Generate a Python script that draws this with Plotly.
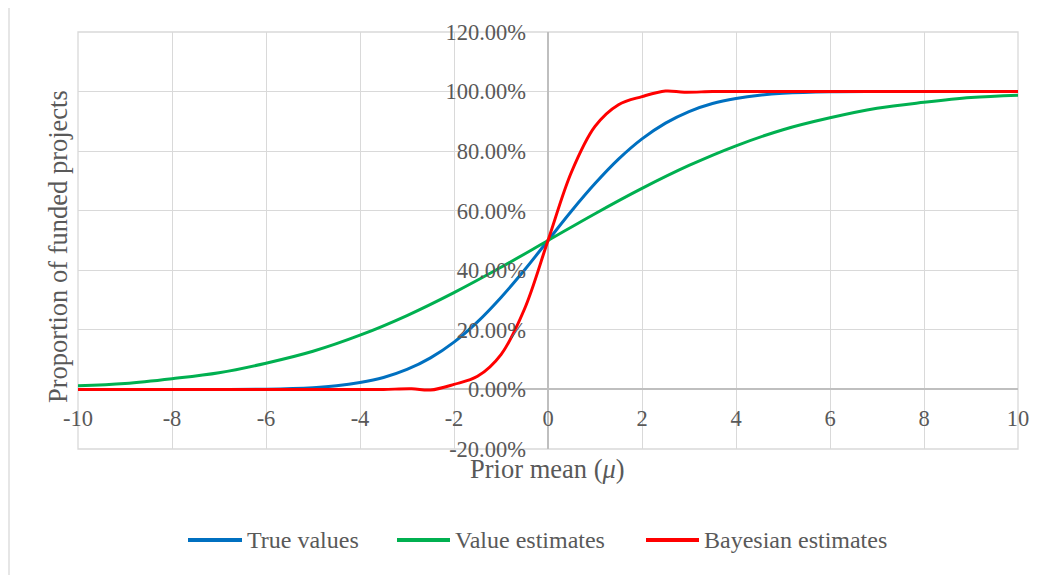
import plotly.graph_objects as go

# Data (proportion of funded projects, in %)
x_true = [-10, -9, -8, -7, -6, -5, -4.5, -4, -3.5, -3, -2.5, -2, -1.5, -1, -0.5, 0,
          0.5, 1, 1.5, 2, 2.5, 3, 3.5, 4, 4.5, 5, 6, 7, 8, 9, 10]
y_true = [0, 0, 0, 0, 0.1, 0.6, 1.2, 2.3, 4.0, 6.7, 10.6, 15.9, 22.7, 30.9, 40.1, 50,
          59.9, 69.1, 77.3, 84.1, 89.4, 93.3, 96.0, 97.7, 98.8, 99.4, 99.9, 100, 100, 100, 100]

x_value = [-10, -9, -8, -7, -6, -5, -4, -3, -2, -1, 0, 1, 2, 3, 4, 5, 6, 7, 8, 9, 10]
y_value = [1.2, 2.0, 3.6, 5.6, 8.8, 12.8, 18.2, 24.8, 32.5, 41.0, 50, 59.0, 67.5, 75.2,
           81.8, 87.2, 91.2, 94.4, 96.4, 98.0, 98.8]

x_bayes = [-10, -8, -6, -4, -3.5, -2.9, -2.5, -2, -1.5, -1, -0.5, 0, 0.5, 1, 1.5, 2,
           2.5, 2.9, 3.5, 4, 6, 8, 10]
y_bayes = [0, 0, 0, 0, 0, 0.2, -0.2, 1.7, 4.4, 11.7, 27.0, 50, 73.0, 88.3, 95.6, 98.3,
           100.2, 99.8, 100, 100, 100, 100, 100]

x_ticks = [-10, -8, -6, -4, -2, 0, 2, 4, 6, 8, 10]
x_ticklabels = ["-10", "-8", "-6", "-4", "-2", "0", "2", "4", "6", "8", "10"]
y_ticks = [-20, 0, 20, 40, 60, 80, 100, 120]
y_ticklabels = ["-20.00%", "0.00%", "20.00%", "40.00%", "60.00%", "80.00%", "100.00%", "120.00%"]

series_names = ["True values", "Value estimates", "Bayesian estimates"]
series_colors = ["#0070C0", "#00B050", "#FF0000"]
series_x = [x_true, x_value, x_bayes]
series_y = [y_true, y_value, y_bayes]

FONT = "Liberation Serif, Times New Roman, serif"
GRAY = "#595959"

# plot-area pixel geometry (window coordinates) used to place the custom legend
PX0, PX1, PY0, PY1 = 78, 1018, 32, 449


def px_x(p):
    return (p - PX0) / (PX1 - PX0)


def px_y(p):
    return (PY1 - p) / (PY1 - PY0)


fig = go.Figure()
for name, xs, ys, color in zip(series_names, series_x, series_y, series_colors):
    fig.add_trace(go.Scatter(
        x=xs, y=ys, mode="lines", name=name, showlegend=False,
        line=dict(color=color, width=3, shape="spline", smoothing=1.0),
    ))

# custom legend (line sample + label)
legend_line_x = [(188, 242), (397, 450), (646, 699)]
shapes = [
    dict(type="rect", xref="paper", yref="paper", x0=0, x1=1, y0=0, y1=1,
         line=dict(color="#d9d9d9", width=1.3), layer="below"),
    dict(type="rect", xref="paper", yref="paper", x0=px_x(9), x1=px_x(1055), y0=px_y(600), y1=px_y(4),
         line=dict(color="#d9d9d9", width=1.3), layer="below"),
]
annotations = [
    dict(text="Prior mean (<i>μ</i>)", xref="paper", yref="paper", x=px_x(547), y=px_y(469),
         xanchor="center", yanchor="middle", showarrow=False, font=dict(size=26.5, color=GRAY)),
    dict(text="Proportion of funded projects", xref="paper", yref="paper",
         x=px_x(58), y=px_y(247), xanchor="center", yanchor="middle",
         textangle=-90, showarrow=False, font=dict(size=26.5, color=GRAY)),
]
for (a, b), name, color in zip(legend_line_x, series_names, series_colors):
    shapes.append(dict(type="line", xref="paper", yref="paper", x0=px_x(a), x1=px_x(b),
                       y0=px_y(540), y1=px_y(540), line=dict(color=color, width=4)))
    annotations.append(dict(text=name, xref="paper", yref="paper", x=px_x(b + 3), y=px_y(540),
                            xanchor="left", yanchor="middle", showarrow=False,
                            font=dict(size=24, color=GRAY)))

fig.update_layout(
    width=1052, height=567,
    margin=dict(l=70, r=42, t=24, b=126),
    paper_bgcolor="white", plot_bgcolor="white",
    font=dict(family=FONT, size=22, color=GRAY),
    showlegend=False,
    xaxis=dict(
        range=[-10, 10], tickvals=x_ticks, ticktext=x_ticklabels,
        showgrid=True, gridcolor="#d9d9d9", gridwidth=1.3,
        zeroline=True, zerolinecolor="#bfbfbf", zerolinewidth=1.6,
        showline=False, anchor="free", position=20 / 140, ticks="",
        ticklabelstandoff=13, tickfont=dict(size=22.5, color=GRAY),
    ),
    yaxis=dict(
        range=[-20, 120], tickvals=y_ticks, ticktext=y_ticklabels,
        showgrid=True, gridcolor="#d9d9d9", gridwidth=1.3,
        zeroline=True, zerolinecolor="#bfbfbf", zerolinewidth=1.6,
        showline=False, anchor="free", position=0.5, ticks="",
        ticklabelstandoff=22, tickfont=dict(size=22.5, color=GRAY),
    ),
    shapes=shapes,
    annotations=annotations,
)

fig.write_html("out.html")
